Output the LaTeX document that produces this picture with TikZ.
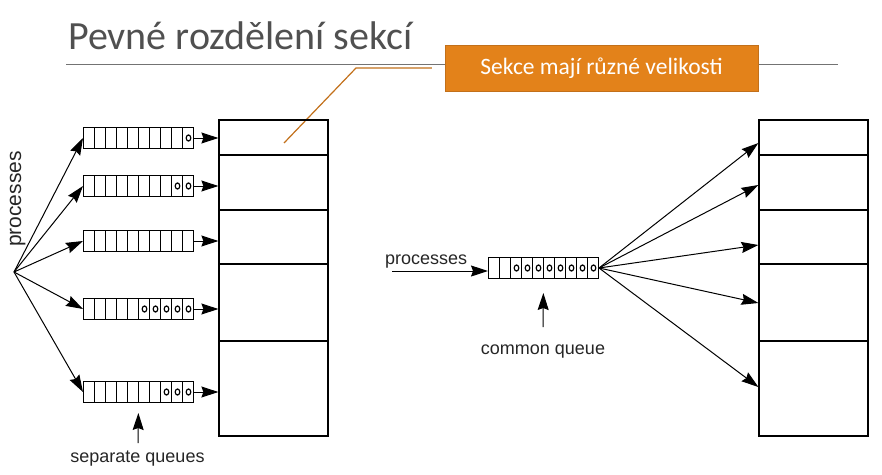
\documentclass[tikz,border=0pt]{standalone}
\usepackage{fontspec}
\usetikzlibrary{arrows.meta}
\newfontfamily\slidefont{Carlito}
\newfontfamily\labelfont{Liberation Sans}
\definecolor{noteorange}{HTML}{E3821A}
\definecolor{noteedge}{HTML}{C2701A}
\definecolor{titlegray}{HTML}{505050}
\tikzset{
  queue/.style={draw, line width=1pt, minimum width=110pt, minimum height=21pt, inner sep=0pt, anchor=west},
  memory/.style={draw, line width=1.2pt, minimum width=109pt, minimum height=316pt, inner sep=0pt},
  cell/.style={line width=0.8pt},
  token/.style={line width=1.2pt},
  arr/.style={-{Stealth[length=17pt,width=11pt,inset=2pt]}, line width=1pt},
  lbl/.style={font=\labelfont\fontsize{18}{20}\selectfont, text=black!85, inner sep=0pt}
}
\begin{document}
\begin{tikzpicture}[x=1pt, y=-1pt]
        \useasboundingbox (0,0) rectangle (882,474);

        % title and callout
        \node[anchor=base west, inner sep=0pt, text=titlegray, font=\slidefont\fontsize{40}{44}\selectfont] (title) at (68,49) {Pevné rozdělení sekcí};
        \draw[black!55, line width=1pt] (66,64.5) -- (838,64.5);
        \node[draw=noteedge, fill=noteorange, text=white, minimum width=313pt, minimum height=46pt, font=\slidefont\fontsize{23.5}{26}\selectfont] (note) at (601.5,68) {Sekce mají různé velikosti};

        \coordinate (knee) at (356,68);
        \coordinate (ptr) at (284,143);
        \draw[noteedge, line width=1.2pt, shorten <=13pt] (note.west) -- (knee) -- (ptr);

        % left: separate queues
        \node[memory] (memL) at (273.5,278) {};
        \node[memory] (memR) at (813.5,278) {};
        \foreach \y in {155,210,264,341} {
            \draw[line width=1.2pt] (memL.west |- 0,\y) -- (memL.east |- 0,\y);
            \draw[line width=1.2pt] (memR.west |- 0,\y) -- (memR.east |- 0,\y);
        }

        \coordinate (src) at (14,272);
        \node[lbl, rotate=90, anchor=base, font=\labelfont\fontsize{21}{23}\selectfont] (plabel) at (21,199) {processes};

        \foreach \i/\y/\n in {1/138/1, 2/186/2, 3/241/0, 4/309/5, 5/392/3} {
            \node[queue] (q\i) at (83,\y) {};
            \foreach \k in {1,...,9}
                \draw[cell] ([xshift=\k*11pt]q\i.north west) -- ([xshift=\k*11pt]q\i.south west);
            \ifnum\n>0
                \foreach \k in {1,...,\n}
                    \draw[token] ([xshift=-\k*11pt+5.5pt]q\i.east) ellipse[x radius=2.3pt, y radius=3pt];
            \fi
            \draw[arr] (src) -- (q\i.west);
            \draw[arr] (q\i.east) -- (q\i.east -| memL.west);
        }

        \node[lbl, anchor=base] (sqlabel) at (137.5,462) {separate queues};
        \coordinate (sqtail) at (138,443);
        \draw[arr, shorten >=10pt] (sqtail) -- (q5.south);

        % right: common queue
        \node[queue] (cq) at (488,268) {};
        \foreach \k in {1,...,9}
            \draw[cell] ([xshift=\k*11pt]cq.north west) -- ([xshift=\k*11pt]cq.south west);
        \foreach \k in {1,...,8}
            \draw[token] ([xshift=-\k*11pt+5.5pt]cq.east) ellipse[x radius=2.3pt, y radius=3pt];

        \node[lbl, anchor=base west] (cplabel) at (385,264) {processes};
        \coordinate (pin) at (392,271);
        \draw[arr] (pin) -- (pin -| cq.west);

        \node[lbl, anchor=base] (cqlabel) at (543,354) {common queue};
        \coordinate (cqtail) at (543,327);
        \draw[arr, shorten >=14pt] (cqtail) -- (cq.south);

        \foreach \y in {143,185,245,303,387}
            \draw[arr] (cq.east) -- (memR.west |- 0,\y);
    \end{tikzpicture}
\end{document}
